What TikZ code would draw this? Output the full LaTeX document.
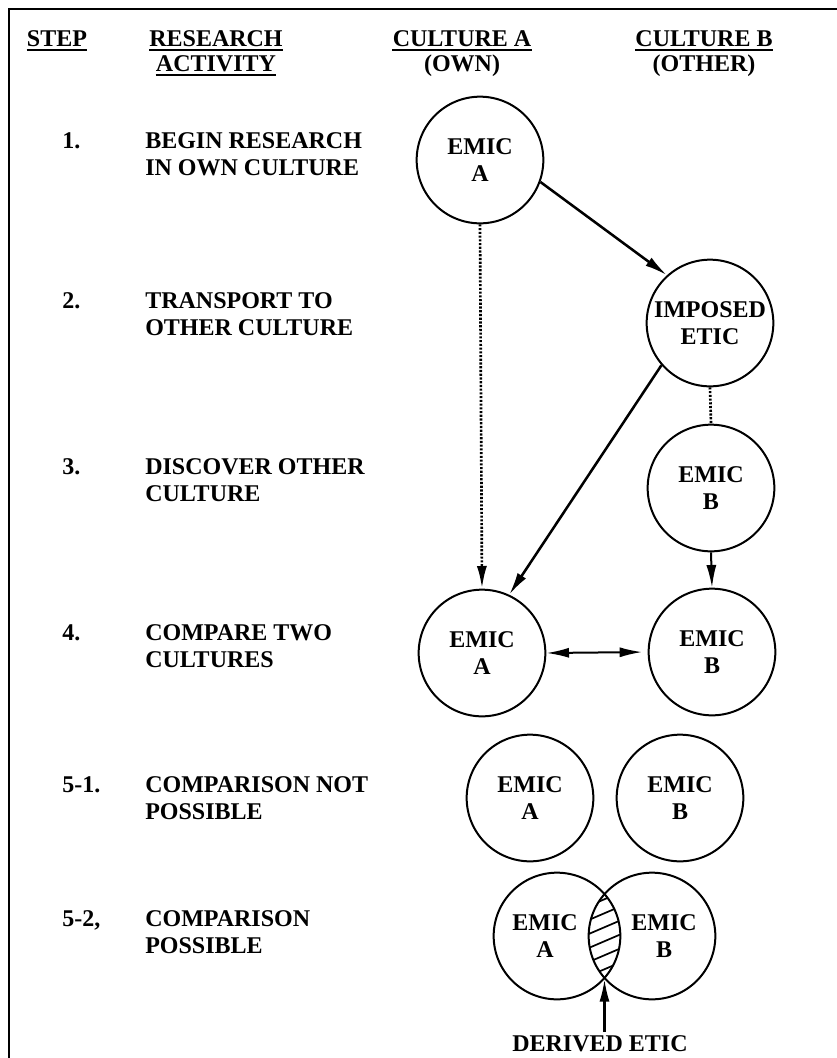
\documentclass[tikz,border=0pt]{standalone}
\usepackage{fontspec}
\setmainfont{Liberation Serif}
\usetikzlibrary{arrows.meta}
\begin{document}
\begin{tikzpicture}[x=0.75pt,y=-0.75pt,
  txt/.style={font=\bfseries\fontsize{18}{20.5}\selectfont,inner sep=0pt},
  hdr/.style={font=\bfseries\fontsize{18}{20}\selectfont,inner sep=0pt,anchor=base},
  lbl/.style={txt,anchor=west,align=left},
  num/.style={txt,anchor=west},
  emic/.style={circle,draw,line width=1.5pt,minimum size=95pt,inner sep=0pt,
    align=center,font=\bfseries\fontsize{18}{20.5}\selectfont},
  tip/.style={-{Latex[length=17pt,width=7.5pt]}},
  solidarrow/.style={tip,line width=1.9pt},
  dottedline/.style={line width=2pt,dash pattern=on 1.6pt off 1.2pt},
  frame/.style={line width=1.5pt}]
\useasboundingbox (0,0) rectangle (837,1058);

% open frame: top and left edges
\coordinate (fbl) at (9,1058);
\coordinate (ftl) at (9,9);
\coordinate (ftr) at (837,9);
\draw[frame] (fbl) -- (ftl) -- (ftr);

% column headings
\node[hdr] (hstep) at (57,46) {STEP};
\node[hdr] (hres1) at (216,46) {RESEARCH};
\node[hdr] (hres2) at (216,71) {ACTIVITY};
\node[hdr] (hca1) at (462,46) {CULTURE A};
\node[hdr] (hca2) at (462,71) {(OWN)};
\node[hdr] (hcb1) at (704,46) {CULTURE B};
\node[hdr] (hcb2) at (704,71) {(OTHER)};
\foreach \h in {hstep,hres1,hres2,hca1,hcb1}
  \draw[line width=1.4pt] ([yshift=-3pt]\h.base west) -- ([yshift=-3pt]\h.base east);

% step labels
\node[lbl] (l1) at (145,154) {BEGIN RESEARCH\\IN OWN CULTURE};
\node[lbl] (l2) at (145,314) {TRANSPORT TO\\OTHER CULTURE};
\node[lbl] (l3) at (145,480) {DISCOVER OTHER\\CULTURE};
\node[lbl] (l4) at (145,646) {COMPARE TWO\\CULTURES};
\node[lbl] (l51) at (145,798) {COMPARISON NOT\\POSSIBLE};
\node[lbl] (l52) at (145,932) {COMPARISON\\POSSIBLE};
\node[num,anchor=north west] (n1) at (l1.north -| 62,0) {1.};
\node[num,anchor=north west] (n2) at (l2.north -| 62,0) {2.};
\node[num,anchor=north west] (n3) at (l3.north -| 62,0) {3.};
\node[num,anchor=north west] (n4) at (l4.north -| 62,0) {4.};
\node[num,anchor=north west] (n51) at (l51.north -| 62,0) {5-1.};
\node[num,anchor=north west] (n52) at (l52.north -| 62,0) {5-2,};

% emic / etic circles
\node[emic] (A1) at (480,160) {EMIC\\A};
\node[emic] (IE) at (710,323) {IMPOSED\\ETIC};
\node[emic] (B3) at (711,488) {EMIC\\B};
\node[emic] (A4) at (482,653) {EMIC\\A};
\node[emic] (B4) at (712,652) {EMIC\\B};
\node[emic] (A51) at (530,798) {EMIC\\A};
\node[emic] (B51) at (680,798) {EMIC\\B};

% overlapping pair with hatched lens
\begin{scope}
  \clip (557,936) circle (47.6pt);
  \clip (652,936) circle (47.6pt);
  \foreach \k in {0,...,8}
    \draw[line width=1.3pt] (570,{872+14*\k}) -- (640,{842+14*\k});
\end{scope}
\node[emic] (A52) at (557,936) {EMIC\hspace*{18pt}\\A\hspace*{18pt}};
\node[emic] (B52) at (652,936) {\hspace*{18pt}EMIC\\\hspace*{18pt}B};
\coordinate (lensbot) at (604.5,979);
\node[txt,anchor=base] (de) at (600,1051) {DERIVED ETIC};

% connectors
\draw[solidarrow] (A1.-20) -- (IE.132);
\draw[solidarrow] (IE.-139) -- (A4.65);
\draw[dottedline,tip] (A1.south) -- (A4.north);
\draw[dottedline] (IE.south) -- (B3.north);
\draw[solidarrow,line width=1.5pt] (B3.south) -- (B4.north);
\draw[line width=1.5pt,{Latex[length=17pt,width=7.5pt]}-{Latex[length=17pt,width=7.5pt]},shorten >=4pt] (A4.east) -- (B4.west);
\draw[solidarrow,line width=1.8pt] ([yshift=2pt]de.north -| lensbot) -- (lensbot);
\end{tikzpicture}
\end{document}
